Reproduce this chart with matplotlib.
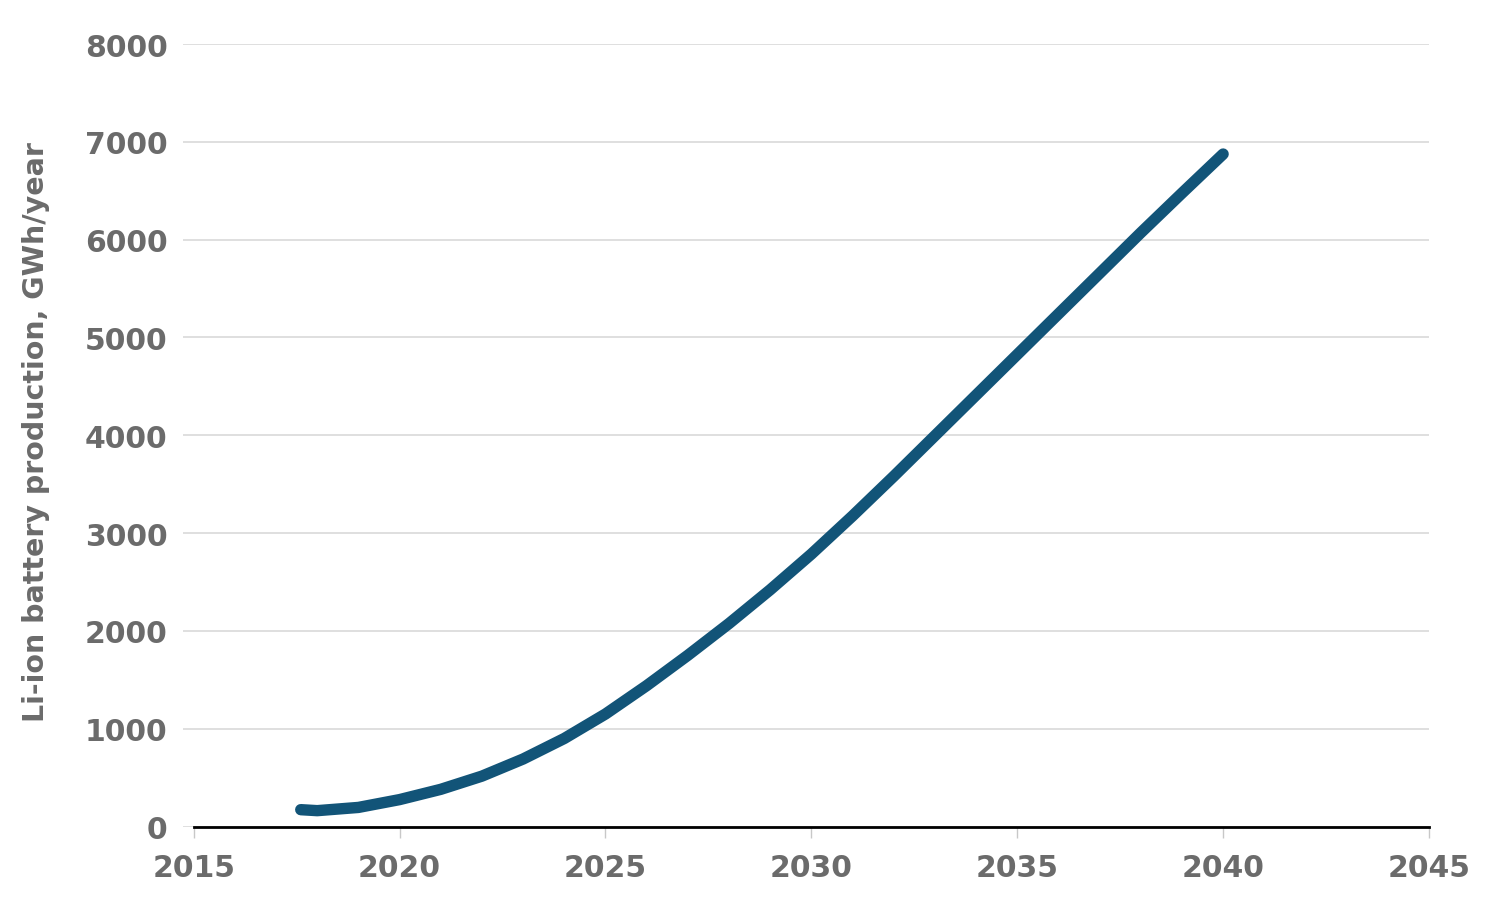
import matplotlib
matplotlib.use("Agg")
import matplotlib.pyplot as plt

years = [2017.6, 2018, 2019, 2020, 2021, 2022, 2023, 2024, 2025, 2026, 2027, 2028,
         2029, 2030, 2031, 2032, 2033, 2034, 2035, 2036, 2037, 2038, 2039, 2040]
production = [172, 162, 195, 275, 380, 515, 690, 900, 1150, 1440, 1750, 2075,
              2420, 2785, 3175, 3580, 3995, 4410, 4825, 5240, 5655, 6070, 6475, 6875]

x_ticks = [2015, 2020, 2025, 2030, 2035, 2040, 2045]
y_ticks = [0, 1000, 2000, 3000, 4000, 5000, 6000, 7000, 8000]
y_label = "Li-ion battery production, GWh/year"

text_color = "#6b6b6b"
line_color = "#125478"

plt.rcParams['font.family'] = ['DejaVu Sans']
fig = plt.figure(figsize=(15, 9.12), dpi=100)
W, H = 1500, 912
x_left_px, x_right_px = 183, 1429
y_top_px, y_bot_px = 45, 827.5
ax = fig.add_axes([x_left_px / W, (H - y_bot_px) / H,
                   (x_right_px - x_left_px) / W, (y_bot_px - y_top_px) / H])

px_per_year = (1429 - 193.7) / 30
ax.set_xlim(2015 - (193.7 - x_left_px) / px_per_year, 2045)
ax.set_ylim(0, 8000)

ax.plot(years, production, color=line_color, lw=8.2, solid_capstyle='round',
        solid_joinstyle='round', zorder=3, clip_on=False)

ax.set_yticks(y_ticks)
ax.set_yticklabels([str(v) for v in y_ticks])
ax.set_xticks(x_ticks)
ax.set_xticklabels([str(v) for v in x_ticks])
ax.yaxis.grid(True, color="#d6d6d6", lw=1.1)
ax.set_axisbelow(True)

for s in ['top', 'right', 'left']:
    ax.spines[s].set_visible(False)
ax.spines['bottom'].set_bounds(2015, 2045)
ax.spines['bottom'].set_color('black')
ax.spines['bottom'].set_linewidth(2.0)
ax.spines['bottom'].set_zorder(4)

ax.tick_params(axis='y', length=0, pad=11, labelsize=21.5, labelcolor=text_color)
ax.tick_params(axis='x', length=8, width=1, color="#c8c8c8", pad=11,
               labelsize=21.5, labelcolor=text_color)
for lab in ax.get_xticklabels() + ax.get_yticklabels():
    lab.set_fontweight('bold')

fig.text(36 / W, (H - 432) / H, y_label, rotation=90, ha='center', va='center',
         fontsize=20.5, fontweight='bold', color=text_color)

fig.savefig("out.png", dpi=100, facecolor='white')
